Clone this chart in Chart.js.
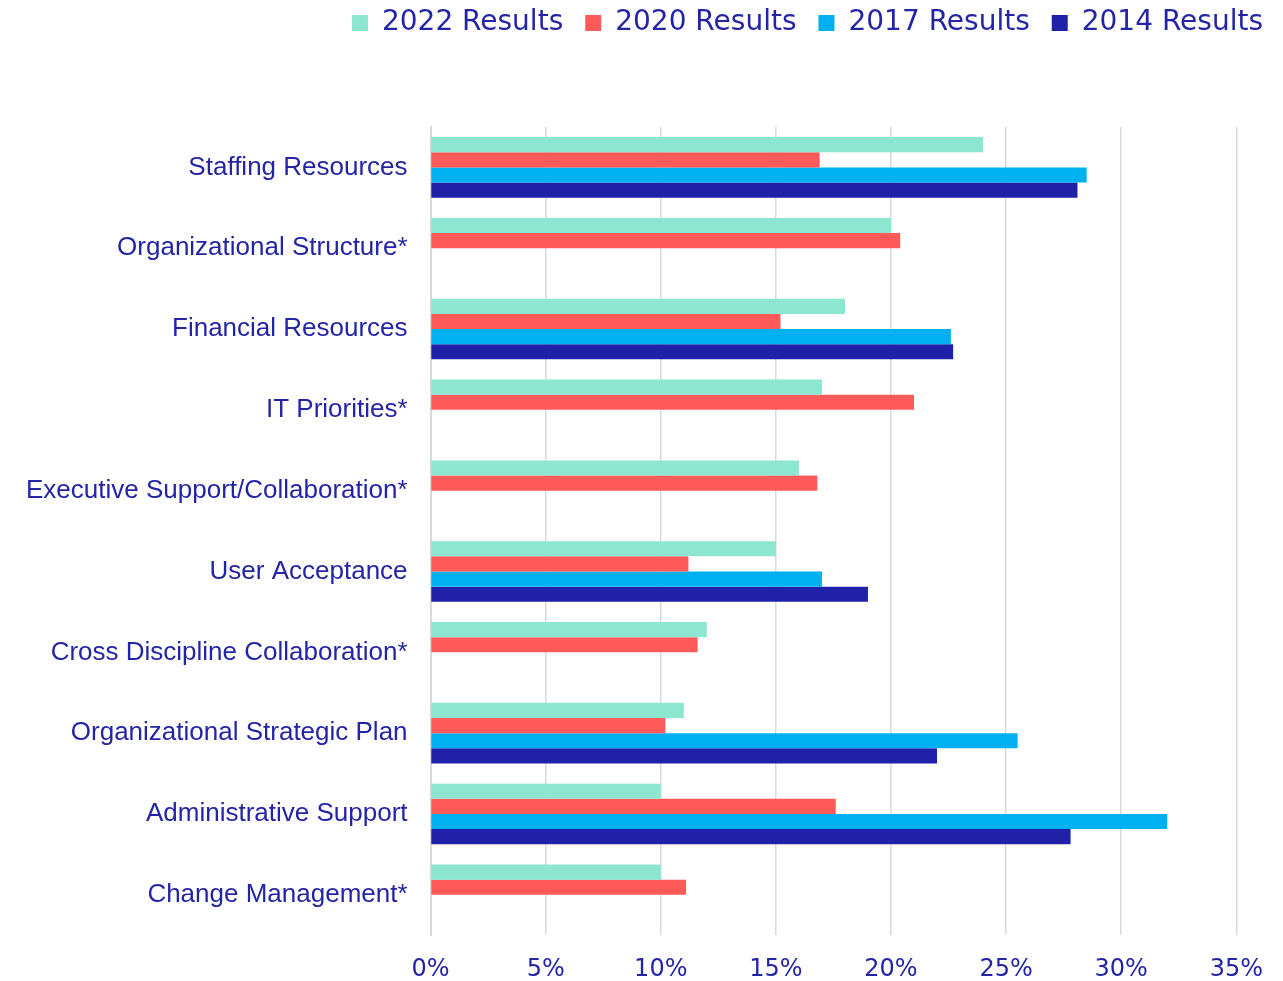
<!DOCTYPE html>
<html>
<head>
<meta charset="utf-8">
<script src="https://cdn.jsdelivr.net/npm/chart.js@4.4.1/dist/chart.umd.min.js"></script>
<style>
  html, body { margin: 0; padding: 0; background: #ffffff; }
  #wrap { width: 1283px; height: 981px; }
</style>
</head>
<body>
<div id="wrap"><canvas id="chart" width="1283" height="981"></canvas></div>
<script>
// categories, top to bottom
var categories = [
  "Staffing Resources",
  "Organizational Structure*",
  "Financial Resources",
  "IT Priorities*",
  "Executive Support/Collaboration*",
  "User Acceptance",
  "Cross Discipline Collaboration*",
  "Organizational Strategic Plan",
  "Administrative Support",
  "Change Management*"
];

// percent values per survey year (null = not asked that year)
var results2022 = [24, 20, 18, 17, 16, 15, 12, 11, 10, 10];
var results2020 = [16.9, 20.4, 15.2, 21, 16.8, 11.2, 11.6, 10.2, 17.6, 11.1];
var results2017 = [28.5, null, 22.6, null, null, 17, null, 25.5, 32, null];
var results2014 = [28.1, null, 22.7, null, null, 19, null, 22, 27.8, null];

var xTicks = [0, 5, 10, 15, 20, 25, 30, 35];

var TEXT = "#2424a6";
var GRID = "#d9d9d9";

var series = [
  { label: "2022 Results", data: results2022, color: "#8ce6d0" },
  { label: "2020 Results", data: results2020, color: "#ff5a5a" },
  { label: "2017 Results", data: results2017, color: "#00b0f0" },
  { label: "2014 Results", data: results2014, color: "#1f22a8" }
];

// push the plot area down below the legend, and nudge the legend to the corner
var legendGap = {
  id: "legendGap",
  beforeInit: function (chart) {
    var fit = chart.legend.fit;
    chart.legend.fit = function () {
      fit.bind(chart.legend)();
      this.height += 65;
    };
  },
  afterLayout: function (chart) {
    var lg = chart.legend;
    lg.left += 22;
    lg.right += 22;
    lg.top -= 15;
  }
};

new Chart(document.getElementById("chart"), {
  type: "bar",
  data: {
    labels: categories,
    datasets: series.map(function (s) {
      return {
        label: s.label,
        data: s.data,
        backgroundColor: s.color,
        borderWidth: 0,
        barPercentage: 1,
        categoryPercentage: 0.75
      };
    })
  },
  options: {
    indexAxis: "y",
    responsive: false,
    animation: false,
    layout: { padding: { top: 2, right: 20, left: 11, bottom: -23 } },
    plugins: {
      legend: {
        position: "top",
        align: "end",
        labels: {
          boxWidth: 16,
          boxHeight: 16,
          padding: 22,
          color: TEXT,
          font: { family: "DejaVu Sans", size: 28 }
        }
      },
      tooltip: { enabled: false }
    },
    scales: {
      x: {
        min: 0,
        max: 35,
        afterBuildTicks: function (axis) {
          axis.ticks = xTicks.map(function (v) { return { value: v }; });
        },
        grid: { color: GRID, lineWidth: 1.5, drawTicks: false },
        border: { display: false },
        ticks: {
          padding: 20,
          color: TEXT,
          font: { family: "DejaVu Sans", size: 24 },
          callback: function (v) { return v + "%"; }
        }
      },
      y: {
        grid: { display: false },
        border: { display: true, color: GRID, width: 2 },
        ticks: {
          padding: 15,
          color: TEXT,
          font: { family: "Liberation Sans", size: 26 }
        }
      }
    }
  },
  plugins: [legendGap]
});
</script>
</body>
</html>
